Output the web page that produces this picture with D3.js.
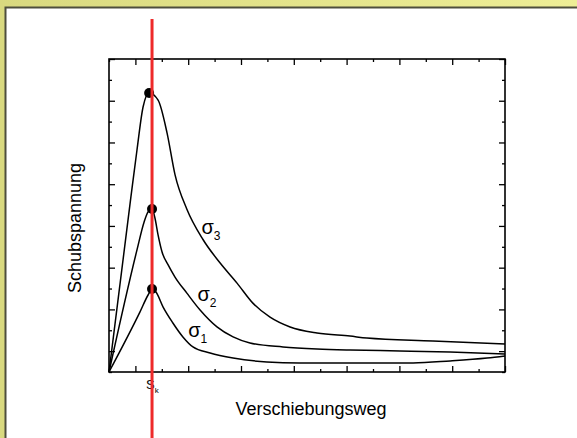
<!DOCTYPE html>
<html lang="de">
<head>
<meta charset="UTF-8">
<title>Schubspannung</title>
<script src="https://cdn.jsdelivr.net/npm/d3@7"></script>
<style>
  body { margin: 0; overflow: hidden; }
  text { font-family: "Liberation Sans", Arial, sans-serif; fill: #000; }
</style>
</head>
<body>
<div id="chart"></div>
<script>
// curve data (x = Verschiebungsweg, y = Schubspannung, arbitrary units)
var sigma3X = [0, 0.83, 1.06, 1.29, 1.52, 1.86, 2.20, 2.50, 2.95, 3.56, 4.21, 4.85, 5.45, 6.10, 6.86, 7.88, 9.13, 9.77, 12.27, 15];
var sigma3Y = [0, 8.39, 10.64, 12.70, 13.37, 13.03, 11.45, 9.46, 7.80, 6.35, 5.22, 4.26, 3.30, 2.63, 2.16, 1.87, 1.72, 1.63, 1.49, 1.34];

var sigma2X = [0, 1.06, 1.33, 1.48, 1.63, 1.74, 1.86, 2.01, 2.24, 2.50, 2.95, 3.45, 4.09, 4.70, 5.34, 6.59, 7.88, 9.13, 11.02, 12.92, 15];
var sigma2Y = [0, 5.85, 7.19, 7.67, 7.81, 7.38, 6.56, 5.75, 5.13, 4.55, 3.78, 2.97, 2.16, 1.68, 1.39, 1.20, 1.10, 1.05, 1.01, 0.96, 0.86];

var sigma1X = [0, 1.17, 1.48, 1.63, 1.78, 2.05, 2.42, 2.80, 3.18, 3.83, 4.70, 5.98, 7.20, 9.13, 11.52, 12.92, 14.32, 15];
var sigma1Y = [0, 2.87, 3.69, 3.98, 3.83, 3.11, 2.35, 1.68, 1.20, 0.91, 0.67, 0.48, 0.43, 0.43, 0.43, 0.53, 0.67, 0.77];

var seriesNames = ['3', '2', '1'];
var labelPos = [[3.5, 6.6], [3.35, 3.4], [3.0, 1.7]];   // where the sigma labels sit
var sk = 1.63;                                          // critical displacement s_k
var ticks = d3.range(0, 16);

var width = 577, height = 438;
var pLeft = 109, pRight = 505, pTop = 59, pBottom = 372;

var svg = d3.select('#chart').append('svg')
    .attr('width', width)
    .attr('height', height);

// frame: yellow edge and white panel
var grad = svg.append('defs').append('linearGradient').attr('id', 'edge')
grad.append('stop').attr('offset', '0%').attr('stop-color', '#d9d97f')
grad.append('stop').attr('offset', '100%').attr('stop-color', '#eeee96')
svg.append('rect').attr('width', width).attr('height', height).attr('fill', 'url(#edge)')
svg.append('rect')
    .attr('x', 5.5).attr('y', 7.5)
    .attr('width', width).attr('height', height)
    .attr('fill', '#fff')
    .attr('stroke', '#4e4e3c')
    .attr('stroke-width', 2)

var x = d3.scaleLinear().domain([0, 15]).range([pLeft, pRight]);
var y = d3.scaleLinear().domain([0, 15]).range([pBottom, pTop]);

var major = ticks.filter(function(d){ return d % 2 == 1 });
var minor = ticks.filter(function(d){ return d % 2 == 0 });

function addAxis(axisFn, scale, values, size, transform){
    svg.append('g')
        .attr('class', 'axis')
        .attr('transform', transform)
        .call(axisFn(scale).tickValues(values).tickSize(size).tickSizeOuter(0).tickFormat(''))
        .call(function(g){ g.select('.domain').remove() })
        .selectAll('line').attr('stroke', '#000').attr('stroke-width', 1.3)
}
addAxis(d3.axisBottom, x, major, -6, 'translate(0,' + pBottom + ')')
addAxis(d3.axisBottom, x, minor, -3, 'translate(0,' + pBottom + ')')
addAxis(d3.axisTop, x, major, -6, 'translate(0,' + pTop + ')')
addAxis(d3.axisTop, x, minor, -3, 'translate(0,' + pTop + ')')
addAxis(d3.axisLeft, y, major, -6, 'translate(' + pLeft + ',0)')
addAxis(d3.axisLeft, y, minor, -3, 'translate(' + pLeft + ',0)')
addAxis(d3.axisRight, y, major, -6, 'translate(' + pRight + ',0)')
addAxis(d3.axisRight, y, minor, -3, 'translate(' + pRight + ',0)')

svg.append('rect')
    .attr('x', pLeft).attr('y', pTop)
    .attr('width', pRight - pLeft).attr('height', pBottom - pTop)
    .attr('fill', 'none')
    .attr('stroke', '#000')
    .attr('stroke-width', 1.6)

var series = [
    d3.zip(sigma3X, sigma3Y),
    d3.zip(sigma2X, sigma2Y),
    d3.zip(sigma1X, sigma1Y)
];

var line = d3.line()
    .x(function(d){ return x(d[0]) })
    .y(function(d){ return y(d[1]) })
    .curve(d3.curveMonotoneX);

svg.selectAll('.curve')
    .data(series)
    .enter()
    .append('path')
    .attr('class', 'curve')
    .attr('d', line)
    .attr('fill', 'none')
    .attr('stroke', '#000')
    .attr('stroke-width', 1.5)

// peak dots
svg.selectAll('.dot')
    .data(series.map(function(s){ return d3.greatest(s, function(d){ return d[1] }) }))
    .enter()
    .append('circle')
    .attr('class', 'dot')
    .attr('cx', function(d){ return x(d[0]) })
    .attr('cy', function(d){ return y(d[1]) })
    .attr('r', 5)
    .attr('fill', '#000')

// sigma labels
var labels = svg.selectAll('.sig')
    .data(seriesNames)
    .enter()
    .append('text')
    .attr('class', 'sig')
    .attr('x', function(d, i){ return x(labelPos[i][0]) })
    .attr('y', function(d, i){ return y(labelPos[i][1]) })
    .attr('fill', '#000')
    .style('font-size', '20px')
labels.append('tspan').text('σ')
labels.append('tspan')
    .attr('dy', 6)
    .style('font-size', '12px')
    .text(function(d){ return d })

// axis titles
svg.append('text')
    .attr('x', (pLeft + pRight) / 2 + 4)
    .attr('y', 415)
    .attr('text-anchor', 'middle')
    .attr('fill', '#000')
    .style('font-size', '18px')
    .text('Verschiebungsweg')

svg.append('text')
    .attr('transform', 'translate(81,228) rotate(-90)')
    .attr('text-anchor', 'middle')
    .attr('fill', '#000')
    .style('font-size', '18px')
    .text('Schubspannung')

// s_k marker
var skText = svg.append('text')
    .attr('x', x(sk) - 6)
    .attr('y', 389)
    .attr('fill', '#000')
    .style('font-size', '13px')
skText.append('tspan').text('S')
skText.append('tspan').attr('dy', 4).style('font-size', '8px').text('k')

svg.append('line')
    .attr('x1', x(sk)).attr('x2', x(sk))
    .attr('y1', 19).attr('y2', height)
    .attr('stroke', '#ee2a2a')
    .attr('stroke-width', 3)
</script>
</body>
</html>
